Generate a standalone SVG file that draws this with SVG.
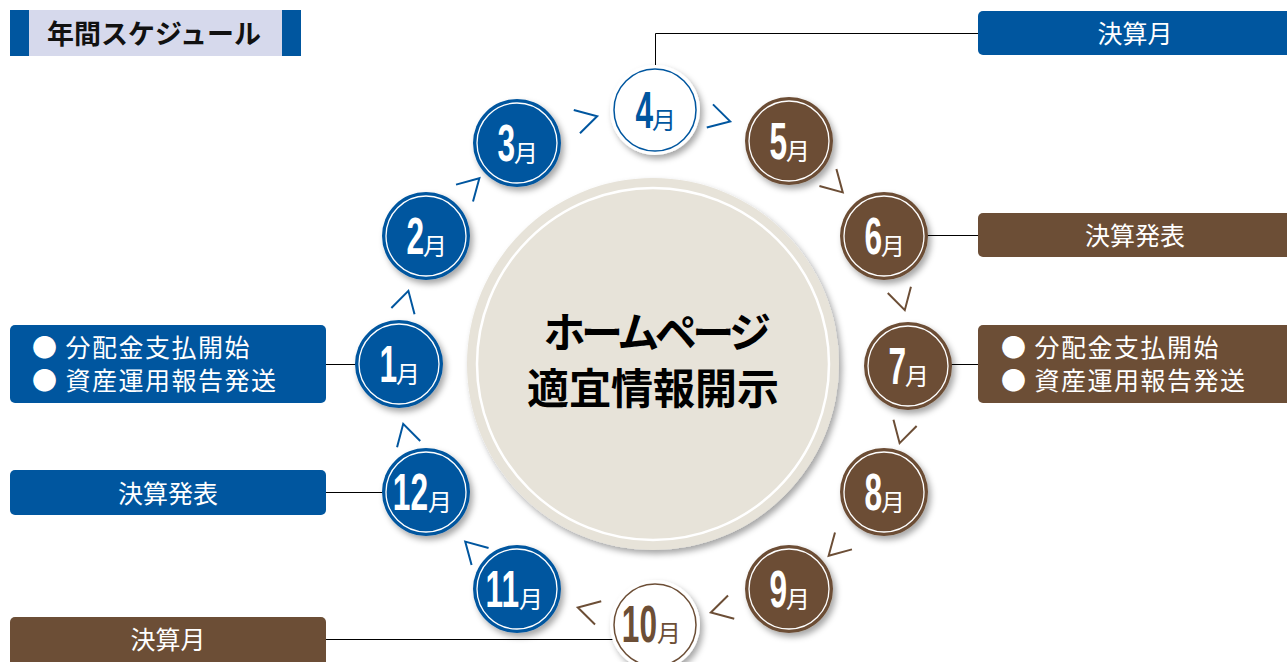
<svg xmlns="http://www.w3.org/2000/svg" width="1287" height="662" viewBox="0 0 1287 662">
<defs>
<style>
.jp{font-family:"Noto Sans CJK JP","Noto Sans",sans-serif}
.num{font-family:"Liberation Sans",Arial,sans-serif;font-weight:bold;font-size:51px}
.mon{font-family:"Noto Sans CJK JP","Noto Sans",sans-serif;font-size:24px}
.lbl{font-family:"Noto Sans CJK JP","Noto Sans",sans-serif;font-size:25px;fill:#fff}
.blue{fill:#00569f}
.brown{fill:#6c4e36}
.ring{fill:none;stroke:#fff;stroke-width:1.3}
.chevB{fill:none;stroke:#00569f;stroke-width:2}
.chevR{fill:none;stroke:#6c4e36;stroke-width:2}
.conn{fill:none;stroke:#000;stroke-width:1}
</style>
<filter id="sh" x="-30%" y="-30%" width="160%" height="160%">
<feDropShadow dx="3" dy="4" stdDeviation="3" flood-color="#000" flood-opacity="0.35"/>
</filter>
<path id="chev" d="M -11,-12 L 10,0 L -11,12"/>
</defs>
<rect width="1287" height="662" fill="#fff"/>

<g id="title">
<rect x="29" y="10" width="253" height="46" fill="#d6d9ec"/>
<rect x="10" y="10" width="19" height="46" fill="#00569f"/>
<rect x="282" y="10" width="19" height="46" fill="#00569f"/>
<text x="47" y="44" class="jp" font-size="27" font-weight="bold" fill="#111">年間スケジュール</text>
</g>

<g id="center">
<circle cx="653" cy="364" r="186" fill="#e7e3d9" filter="url(#sh)"/>
<circle cx="653" cy="364" r="176" fill="none" stroke="#fff" stroke-width="2.5"/>
<text x="655" y="348" class="jp" font-size="42" font-weight="bold" fill="#000" text-anchor="middle" letter-spacing="-4.5">ホームページ</text>
<text x="653" y="404" class="jp" font-size="42" font-weight="bold" fill="#000" text-anchor="middle">適宜情報開示</text>
</g>

<g id="connectors">
<polyline class="conn" points="978,33.5 655.5,33.5 655.5,68"/>
<circle cx="655.5" cy="68" r="2" fill="#000"/>
<line class="conn" x1="918" y1="235.5" x2="978" y2="235.5"/>
<circle cx="918" cy="235.5" r="2" fill="#000"/>
<line class="conn" x1="942" y1="364.5" x2="978" y2="364.5"/>
<circle cx="942" cy="364.5" r="2" fill="#000"/>
<line class="conn" x1="326" y1="364.5" x2="362" y2="364.5"/>
<circle cx="362" cy="364.5" r="2" fill="#000"/>
<line class="conn" x1="326" y1="492.5" x2="390" y2="492.5"/>
<circle cx="390" cy="492.5" r="2" fill="#000"/>
<line class="conn" x1="326" y1="639.5" x2="625" y2="639.5"/>
<circle cx="625" cy="639.5" r="2" fill="#000"/>
<g id="chevrons">
<use href="#chev" class="chevB" transform="translate(587.5,118.8) rotate(-15)"/>
<use href="#chev" class="chevB" transform="translate(720.5,118.8) rotate(15)"/>
<use href="#chev" class="chevR" transform="translate(835.7,185.3) rotate(45)"/>
<use href="#chev" class="chevR" transform="translate(902.2,300.5) rotate(75)"/>
<use href="#chev" class="chevR" transform="translate(902.2,433.5) rotate(105)"/>
<use href="#chev" class="chevR" transform="translate(835.7,548.7) rotate(135)"/>
<use href="#chev" class="chevR" transform="translate(720.5,610) rotate(165)"/>
<use href="#chev" class="chevR" transform="translate(587.5,610) rotate(195)"/>
<use href="#chev" class="chevB" transform="translate(472.3,548.7) rotate(225)"/>
<use href="#chev" class="chevB" transform="translate(405.8,433.5) rotate(255)"/>
<use href="#chev" class="chevB" transform="translate(405.8,300.5) rotate(285)"/>
<use href="#chev" class="chevB" transform="translate(472.3,185.3) rotate(315)"/>
</g>
</g>

<g id="m1"><circle cx="399" cy="364" r="44" class="blue" filter="url(#sh)"/><circle cx="399" cy="364" r="40" class="ring"/><text class="num" fill="#fff" text-anchor="end" transform="translate(397,382) scale(0.62,1)">1</text><text class="mon" fill="#fff" x="396" y="383">月</text></g>
<g id="m2"><circle cx="426" cy="236" r="44" class="blue" filter="url(#sh)"/><circle cx="426" cy="236" r="40" class="ring"/><text class="num" fill="#fff" text-anchor="end" transform="translate(424,254) scale(0.62,1)">2</text><text class="mon" fill="#fff" x="423" y="255">月</text></g>
<g id="m3"><circle cx="517" cy="143" r="44" class="blue" filter="url(#sh)"/><circle cx="517" cy="143" r="40" class="ring"/><text class="num" fill="#fff" text-anchor="end" transform="translate(515,161) scale(0.62,1)">3</text><text class="mon" fill="#fff" x="514" y="162">月</text></g>
<g id="m4"><circle cx="655" cy="110" r="45" fill="#fff" filter="url(#sh)"/><circle cx="655" cy="110" r="41" fill="none" stroke="#00569f" stroke-width="1.5"/><text class="num" fill="#00569f" text-anchor="end" transform="translate(653,128) scale(0.62,1)">4</text><text class="mon" fill="#00569f" x="652" y="129">月</text></g>
<g id="m5"><circle cx="789" cy="141" r="44" class="brown" filter="url(#sh)"/><circle cx="789" cy="141" r="40" class="ring"/><text class="num" fill="#fff" text-anchor="end" transform="translate(787,159) scale(0.62,1)">5</text><text class="mon" fill="#fff" x="786" y="160">月</text></g>
<g id="m6"><circle cx="884" cy="236" r="44" class="brown" filter="url(#sh)"/><circle cx="884" cy="236" r="40" class="ring"/><text class="num" fill="#fff" text-anchor="end" transform="translate(882,254) scale(0.62,1)">6</text><text class="mon" fill="#fff" x="881" y="255">月</text></g>
<g id="m7"><circle cx="908" cy="366" r="44" class="brown" filter="url(#sh)"/><circle cx="908" cy="366" r="40" class="ring"/><text class="num" fill="#fff" text-anchor="end" transform="translate(906,384) scale(0.62,1)">7</text><text class="mon" fill="#fff" x="905" y="385">月</text></g>
<g id="m8"><circle cx="884" cy="492" r="44" class="brown" filter="url(#sh)"/><circle cx="884" cy="492" r="40" class="ring"/><text class="num" fill="#fff" text-anchor="end" transform="translate(882,510) scale(0.62,1)">8</text><text class="mon" fill="#fff" x="881" y="511">月</text></g>
<g id="m9"><circle cx="789" cy="589" r="44" class="brown" filter="url(#sh)"/><circle cx="789" cy="589" r="40" class="ring"/><text class="num" fill="#fff" text-anchor="end" transform="translate(787,607) scale(0.62,1)">9</text><text class="mon" fill="#fff" x="786" y="608">月</text></g>
<g id="m10"><circle cx="655" cy="625" r="45" fill="#fff" filter="url(#sh)"/><circle cx="655" cy="625" r="41" fill="none" stroke="#6c4e36" stroke-width="1.5"/><text class="num" fill="#6c4e36" text-anchor="end" transform="translate(657,642) scale(0.62,1)">10</text><text class="mon" fill="#6c4e36" x="657" y="642">月</text></g>
<g id="m11"><circle cx="517" cy="589" r="44" class="blue" filter="url(#sh)"/><circle cx="517" cy="589" r="40" class="ring"/><text class="num" fill="#fff" text-anchor="end" transform="translate(519,607) scale(0.62,1)">11</text><text class="mon" fill="#fff" x="519" y="608">月</text></g>
<g id="m12"><circle cx="426" cy="492" r="44" class="blue" filter="url(#sh)"/><circle cx="426" cy="492" r="40" class="ring"/><text class="num" fill="#fff" text-anchor="end" transform="translate(428,510) scale(0.62,1)">12</text><text class="mon" fill="#fff" x="428" y="511">月</text></g>

<g id="lbl-apr"><rect x="978" y="11" width="330" height="44" rx="5" class="blue"/><text x="1135" y="43" class="lbl" text-anchor="middle">決算月</text></g>
<g id="lbl-jun"><rect x="978" y="213" width="330" height="44" rx="5" class="brown"/><text x="1135" y="245" class="lbl" text-anchor="middle">決算発表</text></g>
<g id="lbl-jul"><rect x="978" y="325" width="330" height="78" rx="5" class="brown"/><text x="1001" y="357" class="lbl" letter-spacing="1.5">● 分配金支払開始</text><text x="1001" y="390" class="lbl" letter-spacing="1.5">● 資産運用報告発送</text></g>
<g id="lbl-jan"><rect x="10" y="325" width="316" height="78" rx="5" class="blue"/><text x="32" y="357" class="lbl" letter-spacing="1.5">● 分配金支払開始</text><text x="32" y="390" class="lbl" letter-spacing="1.5">● 資産運用報告発送</text></g>
<g id="lbl-dec"><rect x="10" y="470" width="316" height="45" rx="5" class="blue"/><text x="168" y="503" class="lbl" text-anchor="middle">決算発表</text></g>
<g id="lbl-oct"><rect x="10" y="617" width="316" height="50" rx="5" class="brown"/><text x="168" y="649" class="lbl" text-anchor="middle">決算月</text></g>
</svg>
